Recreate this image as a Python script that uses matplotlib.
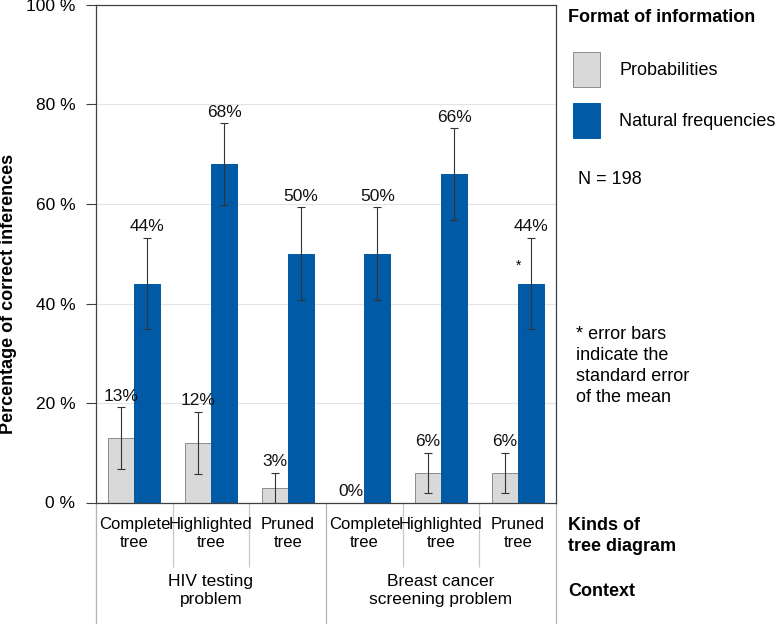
import numpy as np
import matplotlib
matplotlib.use("Agg")
import matplotlib.pyplot as plt

# data
kinds = ["Complete\ntree", "Highlighted\ntree", "Pruned\ntree",
         "Complete\ntree", "Highlighted\ntree", "Pruned\ntree"]
contexts = ["HIV testing\nproblem", "Breast cancer\nscreening problem"]
prob_vals = [13, 12, 3, 0, 6, 6]
prob_err = [6.2, 6.2, 3.0, np.nan, 4.0, 4.0]
freq_vals = [44, 68, 50, 50, 66, 44]
freq_err = [9.2, 8.2, 9.3, 9.3, 9.2, 9.2]
yticks = [0, 20, 40, 60, 80, 100]

GRAY = "#d9d9d9"
BLUE = "#005aa6"

plt.rcParams["font.family"] = ["Liberation Sans", "DejaVu Sans"]

fig = plt.figure(figsize=(7.76, 6.24), dpi=100)
ax = fig.add_axes([96 / 776, 1 - 502.5 / 624, 460 / 776, 497.5 / 624])

x = np.arange(len(kinds))
w = 0.34
err_kw = dict(ecolor="#333333", elinewidth=0.8, capsize=3, capthick=0.8)
b1 = ax.bar(x - w / 2, prob_vals, w, yerr=prob_err, color=GRAY,
            edgecolor="#8c8c8c", linewidth=0.7, error_kw=err_kw,
            label="Probabilities", zorder=2)
b2 = ax.bar(x + w / 2, freq_vals, w, yerr=freq_err, color=BLUE,
            edgecolor=BLUE, linewidth=0.7, error_kw=err_kw,
            label="Natural frequencies", zorder=2)

# value labels above the error bars
for xs, vals, errs in [(x - w / 2, prob_vals, prob_err), (x + w / 2, freq_vals, freq_err)]:
    for xi, v, e in zip(xs, vals, np.nan_to_num(errs)):
        ax.text(xi, v + e + 1.3, f"{v}%", ha="center", va="baseline",
                fontsize=12.5, color="#111111")
ax.text(x[-1] + w / 2 - 0.16, freq_vals[-1] + 3.6, "*", ha="center",
        va="center", fontsize=10)

ax.set_xlim(-0.5, len(kinds) - 0.5)
ax.set_ylim(0, 100)
ax.set_yticks(yticks)
ax.set_yticklabels([f"{t} %" for t in yticks])
ax.set_xticks([])
ax.tick_params(axis="y", length=7.5, width=0.8, pad=7.5, labelsize=12.5,
               color="#404040")
ax.grid(axis="y", color="#e4e4e4", linewidth=0.8, zorder=0)
ax.set_axisbelow(True)
for s in ax.spines.values():
    s.set_color("#404040")
    s.set_linewidth(0.9)

# category area under the axis
for i, k in enumerate(kinds):
    ax.text(i, -6.3, k, ha="center", va="center", fontsize=12,
            linespacing=1.25, clip_on=False)
for j, c in enumerate(contexts):
    ax.text(3 * j + 1, -17.7, c, ha="center", va="center", fontsize=12.5,
            linespacing=1.25, clip_on=False)
ax.vlines([0.5, 1.5, 3.5, 4.5], -13, 0, color="#c8c8c8", linewidth=0.9,
          clip_on=False)
ax.vlines([-0.5, 2.5, 5.5], -25, 0, color="#b4b4b4", linewidth=0.9,
          clip_on=False)

fig.text(9 / 776, 1 - 294 / 624, "Percentage of correct inferences",
         rotation=90, ha="center", va="center", fontsize=13, weight="bold")

# right hand side
fig.text(568 / 776, 1 - 18 / 624, "Format of information", ha="left",
         va="center", fontsize=13, weight="bold")
ax.legend(handles=[b1, b2], loc="upper left",
          bbox_to_anchor=(573 / 776, 1 - 52 / 624),
          bbox_transform=fig.transFigure, frameon=False, fontsize=13,
          borderpad=0, borderaxespad=0, handlelength=1.5, handleheight=2.6,
          handletextpad=1.05, labelspacing=0.9)
fig.text(578 / 776, 1 - 180 / 624, "N = 198", ha="left", va="center",
         fontsize=13)
fig.text(576 / 776, 1 - 366 / 624,
         "* error bars\nindicate the\nstandard error\nof the mean",
         ha="left", va="center", fontsize=13, linespacing=1.3)
fig.text(568 / 776, 1 - 536 / 624, "Kinds of\ntree diagram", ha="left",
         va="center", fontsize=13, weight="bold", linespacing=1.3)
fig.text(568 / 776, 1 - 592 / 624, "Context", ha="left", va="center",
         fontsize=13, weight="bold")

fig.savefig("out.png", dpi=100)
